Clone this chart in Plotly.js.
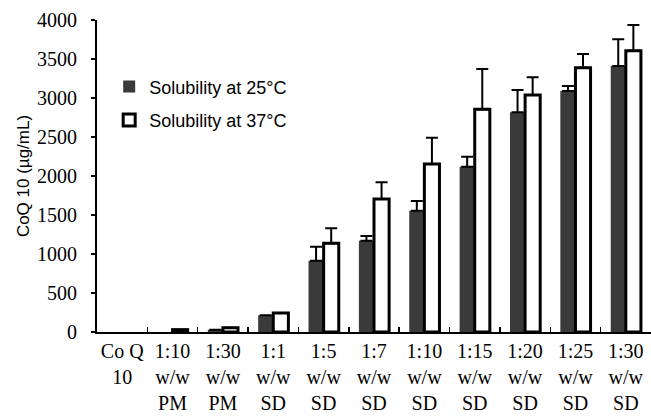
<!DOCTYPE html>
<html>
<head>
<meta charset="utf-8">
<script src="https://cdn.plot.ly/plotly-3.0.1.min.js"></script>
<style>html,body{margin:0;padding:0;background:#fff;}</style>
</head>
<body>
<div id="chart" style="width:651px;height:417px;"></div>
<script>
var categories = ["Co Q<br>10", "1:10<br>w/w<br>PM", "1:30<br>w/w<br>PM", "1:1<br>w/w<br>SD", "1:5<br>w/w<br>SD", "1:7<br>w/w<br>SD", "1:10<br>w/w<br>SD", "1:15<br>w/w<br>SD", "1:20<br>w/w<br>SD", "1:25<br>w/w<br>SD", "1:30<br>w/w<br>SD"];
// null = no visible bar (solubility ~0)
var sol25 = [null, null, 30, 215, 914, 1171, 1555, 2119, 2816, 3090, 3410];
var err25 = [null, null, null, null, 180, 60, 125, 128, 287, 64, 342];
var sol37 = [null, 30, 55, 245, 1137, 1705, 2154, 2855, 3038, 3389, 3606];
var err37 = [null, null, null, null, 192, 214, 337, 517, 227, 175, 330];
var zeros = categories.map(function(){return 0;});

var traces = [
  {
    type: 'bar', name: 'Solubility at 25°C', x: categories, y: sol25,
    legendgroup: 'a',
    marker: {color: '#3a3a3a', line: {color: '#3a3a3a', width: 0}},
    error_y: {type: 'data', symmetric: false, array: err25, arrayminus: zeros, color: '#000', thickness: 2, width: 6}
  },
  {
    type: 'bar', name: 'Solubility at 37°C', x: categories, y: sol37,
    legendgroup: 'b',
    marker: {color: '#ffffff', line: {color: '#000000', width: 3}},
    error_y: {type: 'data', symmetric: false, array: err37, arrayminus: zeros, color: '#000', thickness: 2, width: 6}
  }
];

var layout = {
  width: 651, height: 417,
  margin: {l: 97, r: 0, t: 20, b: 85},
  paper_bgcolor: '#fff', plot_bgcolor: '#fff',
  barmode: 'group', bargap: 0.4, bargroupgap: 0,
  showlegend: true,
  legend: {
    x: 0.022, y: 0.845, xanchor: 'left', yanchor: 'top',
    bgcolor: 'rgba(0,0,0,0)', borderwidth: 0,
    font: {family: 'Liberation Sans, Arial, sans-serif', size: 18, color: '#000'},
    traceorder: 'grouped', tracegroupgap: 7, itemwidth: 30
  },
  xaxis: {
    type: 'category',
    showline: true, linecolor: '#000', linewidth: 2,
    ticks: 'inside', ticklen: 5, tickwidth: 1.5, tickcolor: '#000',
    tickson: 'boundaries',
    showgrid: false, zeroline: false,
    tickangle: 0,
    tickfont: {family: 'Liberation Serif, Times New Roman, serif', size: 20, color: '#000'}
  },
  yaxis: {
    range: [0, 4000], dtick: 500,
    showline: true, linecolor: '#000', linewidth: 2,
    ticks: 'outside', ticklen: 4, tickwidth: 1.5, tickcolor: '#000',
    ticklabelstandoff: 10,
    showgrid: false, zeroline: false,
    tickfont: {family: 'Liberation Serif, Times New Roman, serif', size: 20, color: '#000'},
    title: {text: 'CoQ 10 (µg/mL)', standoff: 3, font: {family: 'Liberation Sans, Arial, sans-serif', size: 17, color: '#000'}}
  }
};

Plotly.newPlot('chart', traces, layout, {displayModeBar: false, staticPlot: true});
</script>
</body>
</html>
